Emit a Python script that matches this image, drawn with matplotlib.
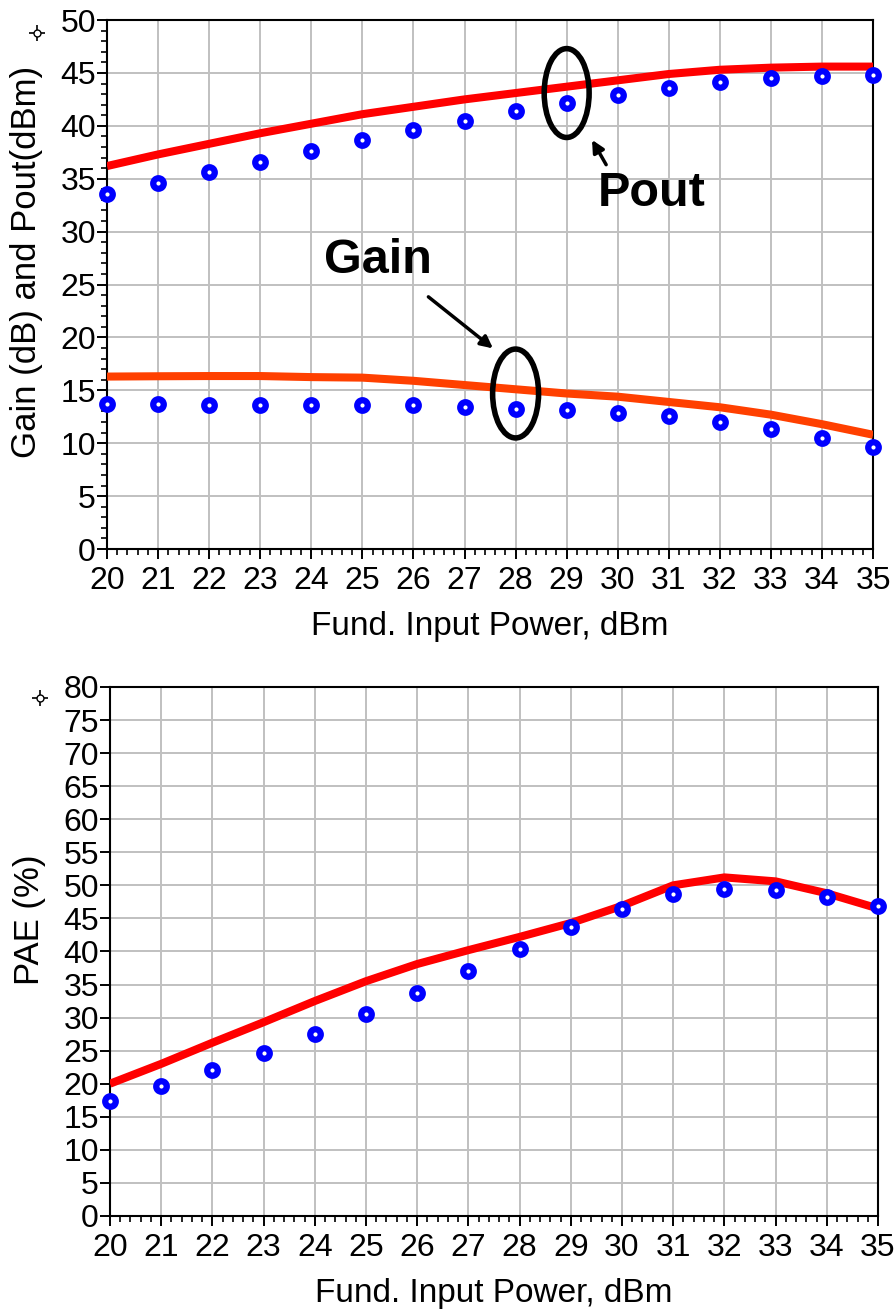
import matplotlib
matplotlib.use('Agg')
import matplotlib.pyplot as plt
from matplotlib.patches import Ellipse
from matplotlib.lines import Line2D
from matplotlib.ticker import MultipleLocator

plt.rcParams['font.family'] = ['Liberation Sans', 'DejaVu Sans']

pin = [20, 21, 22, 23, 24, 25, 26, 27, 28, 29, 30, 31, 32, 33, 34, 35]

# simulated curves (lines) and measured points (circles)
pout_sim = [36.2, 37.3, 38.3, 39.3, 40.2, 41.1, 41.8, 42.5, 43.1, 43.7,
            44.3, 44.9, 45.3, 45.5, 45.6, 45.6]
pout_meas = [33.6, 34.6, 35.6, 36.6, 37.6, 38.7, 39.6, 40.5, 41.4, 42.2,
             42.9, 43.6, 44.1, 44.5, 44.7, 44.8]
gain_sim = [16.3, 16.33, 16.35, 16.35, 16.25, 16.2, 15.9, 15.5, 15.1, 14.7,
            14.4, 13.9, 13.4, 12.7, 11.8, 10.8]
gain_meas = [13.7, 13.7, 13.6, 13.6, 13.6, 13.6, 13.6, 13.4, 13.2, 13.1,
             12.9, 12.6, 12.0, 11.3, 10.5, 9.6]
pae_sim = [20.0, 23.0, 26.2, 29.3, 32.5, 35.5, 38.1, 40.2, 42.2, 44.3,
           46.9, 50.0, 51.2, 50.6, 48.8, 46.5]
pae_meas = [17.4, 19.7, 22.1, 24.7, 27.5, 30.6, 33.7, 37.1, 40.4, 43.7,
            46.4, 48.7, 49.5, 49.3, 48.3, 46.9]

fig = plt.figure(figsize=(8.95, 13.1), dpi=100)
ax1 = fig.add_axes([0.1196, 0.5809, 0.8559, 0.4038])
ax2 = fig.add_axes([0.1229, 0.0718, 0.8581, 0.4038])

circ = dict(ls='none', marker='o', ms=7.6, mew=4.5, mfc='white', mec='#0000ff',
            clip_on=False, zorder=5)

ax1.plot(pin, pout_sim, color='#ff0000', lw=5.8, solid_capstyle='butt', zorder=3)
ax1.plot(pin, gain_sim, color='#ff4000', lw=5.8, solid_capstyle='butt', zorder=3)
ax1.plot(pin, pout_meas, **circ)
ax1.plot(pin, gain_meas, **circ)

ax2.plot(pin, pae_sim, color='#ff0000', lw=5.8, solid_capstyle='butt', zorder=3)
ax2.plot(pin, pae_meas, **circ)

ax1.set_ylim(0, 50)
ax1.yaxis.set_major_locator(MultipleLocator(5))
ax1.yaxis.set_minor_locator(MultipleLocator(1))
ax1.set_ylabel('Gain (dB) and Pout(dBm)', fontsize=25)
ax1.yaxis.set_label_coords(-0.083, 0.543)

ax2.set_ylim(0, 80)
ax2.yaxis.set_major_locator(MultipleLocator(5))
ax2.set_ylabel('PAE (%)', fontsize=25)
ax2.yaxis.set_label_coords(-0.083, 0.56)

for ax in (ax1, ax2):
    ax.set_xlim(20, 35)
    ax.xaxis.set_major_locator(MultipleLocator(1))
    ax.xaxis.set_minor_locator(MultipleLocator(0.2))
    ax.set_xlabel('Fund. Input Power, dBm', fontsize=24, labelpad=11)
    ax.grid(True, which='major', color='#c0c0c0', lw=1.4)
    ax.set_axisbelow(True)
    ax.tick_params(which='major', direction='out', length=7, width=1.4,
                   labelsize=23, pad=1)
    ax.tick_params(which='minor', direction='out', length=4.5, width=1.2)
    ax.tick_params(axis='x', which='major', pad=5)
    for s in ax.spines.values():
        s.set_linewidth(1.5)

# callouts
ax1.add_patch(Ellipse((29, 43.1), 0.88, 8.4, fill=False, ec='black', lw=4,
                      zorder=6))
ax1.add_patch(Ellipse((28, 14.7), 0.9, 8.4, fill=False, ec='black', lw=4,
                      zorder=6))
ax1.text(30.67, 33.6, 'Pout', fontsize=35, fontweight='bold', ha='center',
         va='center')
ax1.text(25.3, 27.3, 'Gain', fontsize=35, fontweight='bold', ha='center',
         va='center')
ax1.annotate('', xy=(29.47, 38.9), xytext=(29.8, 36.1),
             arrowprops=dict(arrowstyle='-|>', color='black', lw=2.5,
                             mutation_scale=18))
ax1.annotate('', xy=(27.6, 18.8), xytext=(26.25, 24.0),
             arrowprops=dict(arrowstyle='-|>', color='black', lw=2.5,
                             mutation_scale=18))

# small cursor marks beside the plots
for fx, fy in [(37 / 895, 1 - 33 / 1310), (40 / 895, 1 - 698 / 1310)]:
    fig.add_artist(Line2D([fx], [fy], transform=fig.transFigure, marker='+',
                          ms=12, mew=1.2, color='black', ls='none'))
    fig.add_artist(Line2D([fx], [fy], transform=fig.transFigure, marker='o',
                          ms=5, mew=1.0, mfc='white', mec='black', ls='none'))

fig.savefig('out.png', dpi=100)
